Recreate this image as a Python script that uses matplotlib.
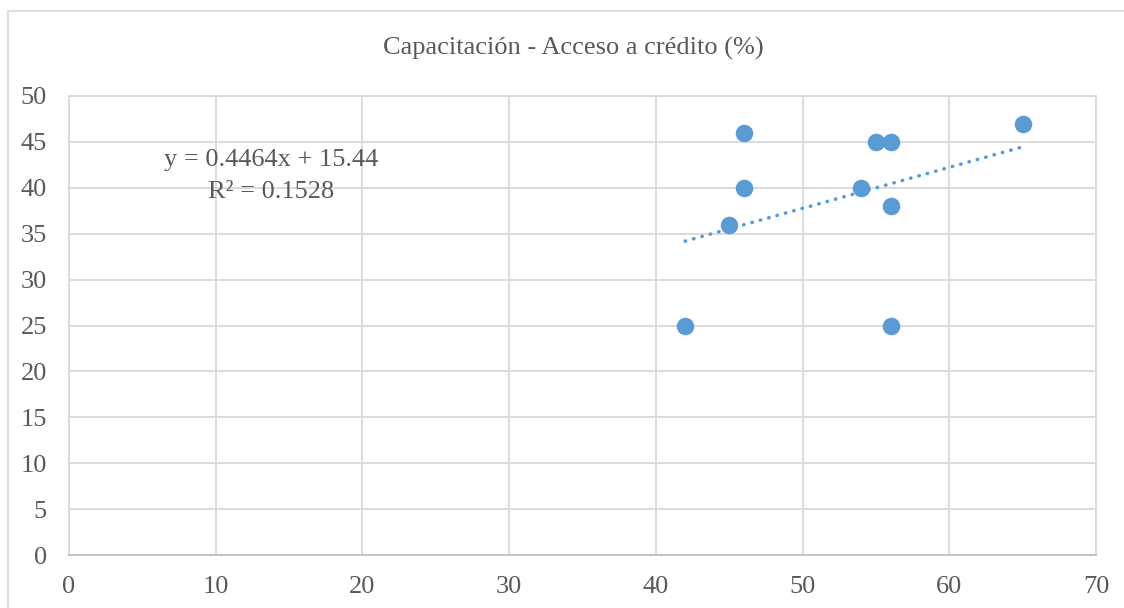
import numpy as np
import matplotlib.pyplot as plt
from matplotlib.patches import Rectangle

# datos
capacitacion = [42, 45, 46, 46, 54, 55, 56, 56, 56, 65]
acceso_credito = [25, 36, 46, 40, 40, 45, 45, 38, 25, 47]
titulo = "Capacitación - Acceso a crédito (%)"
x_ticks = [0, 10, 20, 30, 40, 50, 60, 70]
y_ticks = [0, 5, 10, 15, 20, 25, 30, 35, 40, 45, 50]

plt.rcParams['font.family'] = ['Liberation Serif', 'DejaVu Serif']
azul = '#5B9BD5'
gris_txt = '#595959'
gris_grid = '#D9D9D9'

fig = plt.figure(figsize=(11.24, 6.08), dpi=100)
fig.patches.append(Rectangle((8 / 1124, -0.1), 1.2, 1.1 - 11 / 608,
                             transform=fig.transFigure, fill=False,
                             edgecolor=gris_grid, linewidth=1.2))
ax = fig.add_axes([69 / 1124, 53 / 608, 1027 / 1124, 459 / 608])

ax.scatter(capacitacion, acceso_credito, s=160, color=azul, zorder=3, linewidths=0)

# linea de tendencia lineal
x = np.array(capacitacion, dtype=float)
y = np.array(acceso_credito, dtype=float)
m, b = np.polyfit(x, y, 1)
r2 = np.corrcoef(x, y)[0, 1] ** 2
xt = np.array([x.min(), x.max()])
ax.plot(xt, m * xt + b, color=azul, linewidth=2.6, linestyle=(0, (0.1, 2.3)),
        dash_capstyle='round', zorder=2)

ax.text(13.8, 43.0, f"y = {m:.4f}x + {b:.2f}", ha='center', va='center',
        fontsize=19, color=gris_txt)
ax.text(13.8, 39.5, f"R² = {r2:.4f}", ha='center', va='center',
        fontsize=19, color=gris_txt)

ax.set_xlim(0, 70)
ax.set_ylim(0, 50)
ax.set_xticks(x_ticks)
ax.set_yticks(y_ticks)
ax.grid(True, color=gris_grid, linewidth=1.3)
ax.set_axisbelow(True)
for s in ['top', 'right', 'left']:
    ax.spines[s].set_color(gris_grid)
    ax.spines[s].set_linewidth(1.3)
ax.spines['bottom'].set_color('#BFBFBF')
ax.spines['bottom'].set_linewidth(1.3)
ax.tick_params(length=0, labelsize=19, labelcolor=gris_txt)
ax.tick_params(axis='x', pad=15)
ax.tick_params(axis='y', pad=16)

fig.text(573 / 1124, 1 - 48 / 608, titulo, ha='center', va='center',
         fontsize=19, color=gris_txt)

fig.savefig('out.png', dpi=100)
